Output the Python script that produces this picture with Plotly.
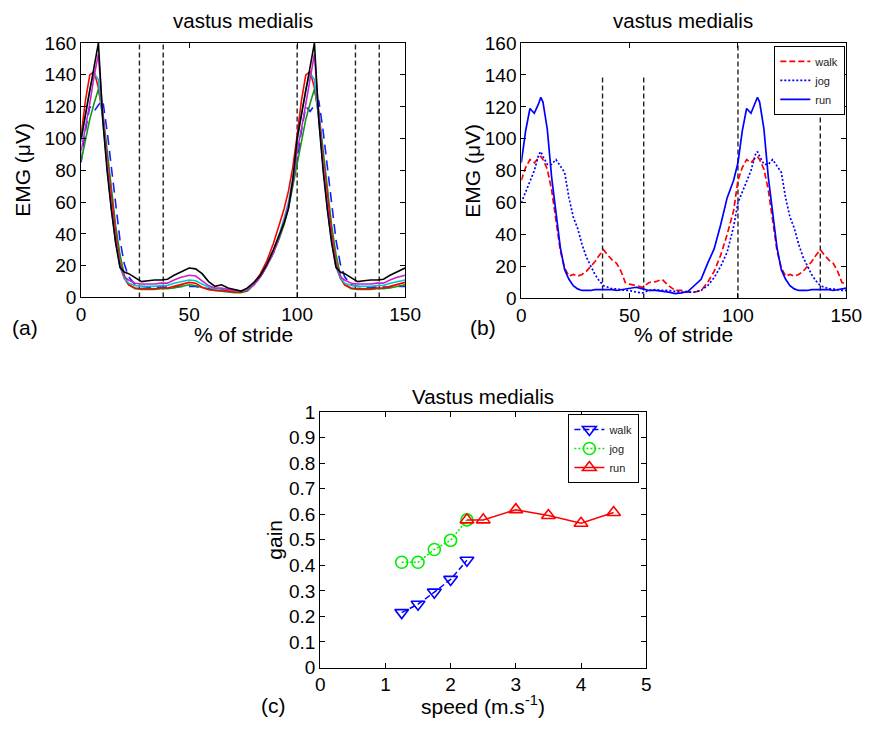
import plotly.graph_objects as go

# ---------------- panel (a): EMG of vastus medialis, several speeds ----------------
stride_a = [0, 2, 4, 6, 8, 10, 12, 14, 16, 18, 20, 22, 25, 28, 31, 34, 37, 40, 43, 46,
            50, 53, 56, 59, 62, 65, 68, 71, 74, 77, 80, 83, 86, 89, 92, 94, 96, 98]
emg_black = [100, 115, 131, 146, 160, 112, 80, 55, 34, 19, 16, 15, 12.5, 10, 10.5, 11, 11, 11.5, 14, 16,
             18.5, 18, 15, 10, 7, 8, 6, 5, 4, 6, 9.5, 14, 21, 30, 40, 47, 56, 74]
emg_magenta = [92, 106, 122, 139, 153, 116, 83, 57, 36, 20, 13, 11, 9, 8.5, 8.5, 8.5, 9, 9, 11, 12.5,
               14, 13.5, 10.5, 7.5, 6, 6, 5, 4.5, 4, 5, 8, 13, 20, 28, 39, 48, 58, 72]
emg_cyan = [98, 115, 131, 141, 137, 112, 82, 56, 35, 19, 12, 9, 7.5, 7, 7, 7, 7.5, 7.5, 9, 10,
            11, 10.5, 8.5, 6.5, 5.5, 5.5, 5, 4.5, 4, 5, 8.5, 14, 21, 30, 41, 50, 60, 76]
emg_red = [102, 124, 140, 142, 132, 114, 88, 62, 40, 22, 12, 8, 6, 5.5, 5.5, 5.5, 6, 6, 7, 8,
           9.5, 9, 6.5, 5, 4.5, 4.5, 4, 3.5, 3.5, 5, 9, 15, 23, 34, 47, 56, 67, 82]
emg_green = [86, 100, 112, 122, 131, 117, 92, 67, 45, 27, 14, 8, 5.5, 5, 5, 5, 5.5, 5.5, 6, 7,
             8, 7.5, 6, 5, 4.5, 4, 3.5, 3, 3, 4, 8, 13, 20, 28, 38, 46, 56, 70]
emg_blue = [85, 105, 120, 117, 121, 124, 105, 82, 60, 36, 21, 13, 8, 7, 6.5, 6.5, 6.5, 6.5, 6.5, 7,
            7, 7, 6, 5.5, 5, 5, 4.5, 4, 4, 5, 8, 13, 20, 28, 39, 48, 58, 72]
events_a = [27, 38, 100, 127, 138]

# ---------------- panel (b): walk / jog / run at the transition speed ----------------
stride_b = [0, 2, 4, 6, 8, 9, 10, 12, 14, 16, 18, 20, 22, 24, 26, 28, 30, 32, 34, 36, 38, 40,
            42, 44, 46, 48, 50, 53, 56, 59, 62, 65, 68, 71, 74, 77, 80, 83, 86, 89, 92, 95, 98]
emg_walk = [74, 82, 87, 85, 88, 89, 87, 81, 68, 50, 30, 19, 14, 15, 14, 15, 17, 20, 23, 27, 30.5, 27,
            24, 22, 17, 10, 9, 8, 7, 10, 10.5, 12, 8, 5, 5, 4, 4, 5, 10, 17, 27, 40, 55]
emg_jog = [60, 67, 73, 80, 90, 92, 89, 84, 84, 87, 83, 79, 63, 51, 44, 34, 26, 20, 15, 11, 8, 7,
           6, 6, 5.5, 5, 5, 4, 3.5, 5, 5.5, 5, 5, 4.5, 4, 4, 4, 5, 8, 13, 20, 29, 45]
emg_run = [85, 105, 119, 116, 122, 126, 123, 106, 76, 52, 32, 18, 12, 8, 6, 5, 5, 5, 5.5, 5.5, 5.5, 5.5,
           5.5, 5, 5.5, 6, 6.5, 7, 6, 5, 5, 4.5, 4, 3, 3.5, 4.5, 8, 12, 22, 31, 46, 63, 74]
events_b = [37.5, 56.5, 100, 138]
events_b_top = [140, 140, 160, 140]

# ---------------- panel (c): gain versus speed ----------------
speed_walk = [1.25, 1.5, 1.75, 2.0, 2.25]
gain_walk = [0.215, 0.248, 0.295, 0.345, 0.42]
speed_jog = [1.25, 1.5, 1.75, 2.0, 2.25]
gain_jog = [0.412, 0.412, 0.462, 0.498, 0.578]
speed_run = [2.25, 2.5, 3.0, 3.5, 4.0, 4.5]
gain_run = [0.578, 0.578, 0.618, 0.595, 0.565, 0.607]

FONT = "Liberation Sans, Arial, sans-serif"
W, H = 874, 730
TICK_SIZE = 19
LABEL_SIZE = 21
TITLE_SIZE = 20.5


def cycle_150(xs, ys):
    """Show 150 % of the stride: the cycle followed by its first half again."""
    x = list(xs) + [v + 100 for v in xs if v + 100 <= 150]
    y = list(ys) + [ys[i] for i, v in enumerate(xs) if v + 100 <= 150]
    return x, y


def px_x(p):
    return p / W


def px_y(p):
    return 1 - p / H


fig = go.Figure()

# panel (a) curves
curves_a = [
    (emg_blue, "#1a1aff", "10px,6px"),
    (emg_green, "#119911", "solid"),
    (emg_red, "#ff0000", "solid"),
    (emg_cyan, "#00c8c8", "solid"),
    (emg_magenta, "#cc22cc", "solid"),
    (emg_black, "#000000", "solid"),
]
for ys, col, dash in curves_a:
    x, y = cycle_150(stride_a, ys)
    fig.add_trace(go.Scatter(x=x, y=y, mode="lines", xaxis="x", yaxis="y",
                             line=dict(color=col, width=1.6, dash=dash),
                             showlegend=False, hoverinfo="skip"))

# panel (b) curves
for name, ys, col, dash in [("walk", emg_walk, "#ff0000", "6px,3px"),
                            ("jog", emg_jog, "#0000ff", "2px,2px"),
                            ("run", emg_run, "#0000ff", "solid")]:
    x, y = cycle_150(stride_b, ys)
    fig.add_trace(go.Scatter(x=x, y=y, mode="lines", name=name, xaxis="x2", yaxis="y2",
                             line=dict(color=col, width=1.7, dash=dash),
                             legend="legend"))

# panel (c) gain curves
for name, xs, ys, col, dash, sym in [
        ("walk", speed_walk, gain_walk, "#0000ff", "6px,3px", "triangle-down-open"),
        ("jog", speed_jog, gain_jog, "#00ee00", "2px,2px", "circle-open"),
        ("run", speed_run, gain_run, "#ff0000", "solid", "triangle-up-open")]:
    fig.add_trace(go.Scatter(x=xs, y=ys, mode="lines+markers", name=name, xaxis="x3", yaxis="y3",
                             line=dict(color=col, width=1.5, dash=dash),
                             marker=dict(symbol=sym, size=12, color=col, line=dict(width=1.6, color=col)),
                             legend="legend2"))

# gait event markers
shapes = []
for ev in events_a:
    shapes.append(dict(type="line", xref="x", yref="y", x0=ev, x1=ev, y0=0, y1=160,
                       line=dict(color="#222222", width=1.4, dash="5px,3px"), layer="below"))
for ev, top in zip(events_b, events_b_top):
    shapes.append(dict(type="line", xref="x2", yref="y2", x0=ev, x1=ev, y0=0, y1=top,
                       line=dict(color="#222222", width=1.4, dash="5px,3px"), layer="below"))

axis_common = dict(showline=True, linecolor="black", linewidth=1, mirror="ticks",
                   ticks="inside", ticklen=5, tickcolor="black", tickwidth=1,
                   showgrid=False, zeroline=False,
                   tickfont=dict(family=FONT, size=TICK_SIZE, color="black"))

legend_common = dict(xanchor="right", yanchor="top", bgcolor="white",
                     bordercolor="black", borderwidth=1, tracegroupgap=0,
                     font=dict(family=FONT, size=11, color="#222222"))

fig.update_layout(
    width=W, height=H,
    margin=dict(l=0, r=0, t=0, b=0),
    paper_bgcolor="white", plot_bgcolor="white",
    font=dict(family=FONT, color="black"),
    shapes=shapes,
    xaxis=dict(domain=[px_x(78), px_x(410)], range=[0, 150], tickvals=[0, 50, 100, 150],
               anchor="y", **axis_common),
    yaxis=dict(domain=[px_y(296), px_y(34)], range=[0, 160], dtick=20, anchor="x", **axis_common),
    xaxis2=dict(domain=[px_x(529), px_x(862)], range=[0, 150], tickvals=[0, 50, 100, 150],
                anchor="y2", **axis_common),
    yaxis2=dict(domain=[px_y(297), px_y(34)], range=[0, 160], dtick=20, anchor="x2", **axis_common),
    xaxis3=dict(domain=[px_x(323), px_x(657)], range=[0, 5], dtick=1, anchor="y3", **axis_common),
    yaxis3=dict(domain=[px_y(677), px_y(414)], range=[0, 1], dtick=0.1, anchor="x3", **axis_common),
    legend=dict(x=px_x(861), y=px_y(37), **legend_common),
    legend2=dict(x=px_x(650), y=px_y(416), **legend_common),
)

ann = []


def text(s, x, y, size, angle=0):
    ann.append(dict(text=s, x=px_x(x), y=px_y(y), xref="paper", yref="paper",
                    xanchor="center", yanchor="middle", showarrow=False, textangle=angle,
                    font=dict(family=FONT, size=size, color="black")))


text("vastus medialis", 244, 11, TITLE_SIZE)
text("vastus medialis", 695, 11, TITLE_SIZE)
text("Vastus medialis", 490, 398, TITLE_SIZE)
text("% of stride", 244, 334, LABEL_SIZE)
text("% of stride", 695, 334, LABEL_SIZE)
text("EMG (μV)", 18, 165, LABEL_SIZE, -90)
text("EMG (μV)", 479, 165, LABEL_SIZE, -90)
text("gain", 276, 545, LABEL_SIZE, -90)
text("speed (m.s<sup>-1</sup>)", 490, 716, LABEL_SIZE)
text("(a)", 20, 327, LABEL_SIZE)
text("(b)", 490, 327, LABEL_SIZE)
text("(c)", 275, 716, LABEL_SIZE)
fig.update_layout(annotations=ann)

fig.write_html("out.html")
